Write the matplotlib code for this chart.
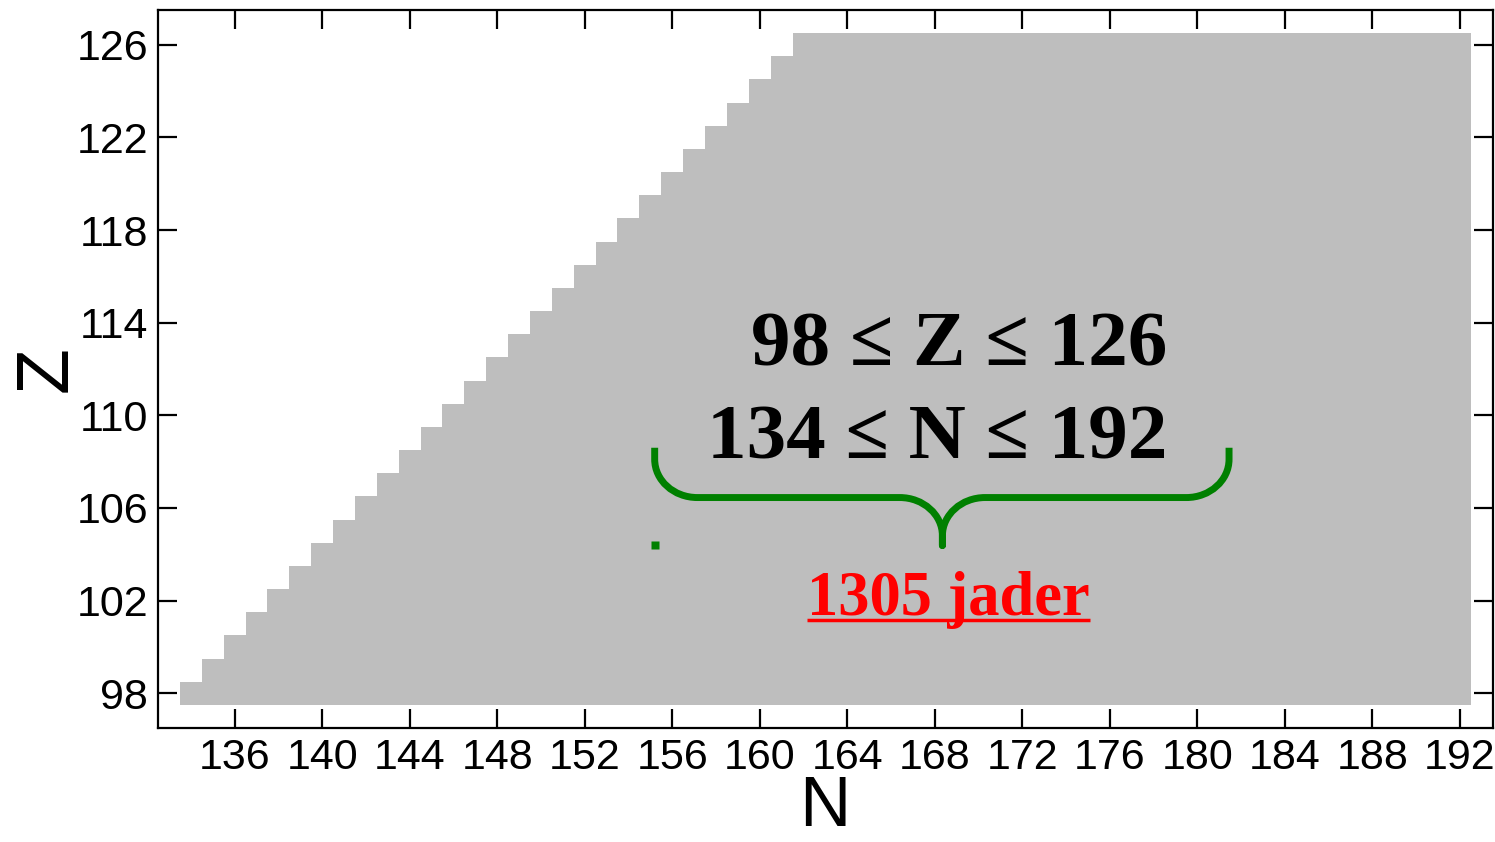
import numpy as np
import matplotlib
matplotlib.use('Agg')
import matplotlib.pyplot as plt
from matplotlib.colors import ListedColormap
from matplotlib.path import Path
from matplotlib.patches import PathPatch

plt.rcParams['font.family'] = ['Liberation Sans Narrow', 'Liberation Sans', 'DejaVu Sans']

# proton numbers and the lightest neutron number computed for each of them
z_values = [98, 99, 100, 101, 102, 103, 104, 105, 106, 107, 108, 109, 110, 111, 112,
            113, 114, 115, 116, 117, 118, 119, 120, 121, 122, 123, 124, 125, 126]
n_first = [134, 135, 136, 137, 138, 139, 140, 141, 142, 143, 144, 145, 146, 147, 148,
           149, 150, 151, 152, 153, 154, 155, 156, 157, 158, 159, 160, 161, 162]
n_last = 192

x_ticks = [136, 140, 144, 148, 152, 156, 160, 164, 168, 172, 176, 180, 184, 188, 192]
y_ticks = [98, 102, 106, 110, 114, 118, 122, 126]

range_lines = ['98 \u2264 Z \u2264 126', '134 \u2264 N \u2264 192']
count_label = '1305 jader'

# grid of computed nuclei
n_all = np.arange(min(n_first), n_last + 1)
z_all = np.array(z_values)
grid = np.ma.masked_all((len(z_all), len(n_all)))
for i, nf in enumerate(n_first):
    grid[i, n_all >= nf] = 1.0

fig = plt.figure(figsize=(14.95, 8.42), dpi=100)
ax = fig.add_axes([158 / 1495, 114 / 842, 1334.7 / 1495, 718 / 842])

n_edges = np.append(n_all, n_all[-1] + 1) - 0.5
z_edges = np.append(z_all, z_all[-1] + 1) - 0.5
ax.pcolormesh(n_edges, z_edges, grid, cmap=ListedColormap(['#bebebe']),
              vmin=0, vmax=1, shading='flat', antialiased=False)

ax.set_xlim(132.5, 193.5)
ax.set_ylim(96.5, 127.5)
ax.set_xticks(x_ticks)
ax.set_yticks(y_ticks)
ax.tick_params(direction='in', top=True, right=True, length=14, width=1.6,
               labelsize=31, pad=7)
for s in ax.spines.values():
    s.set_linewidth(1.6)

ax.set_xlabel('N', fontsize=51, va='baseline')
ax.xaxis.set_label_coords(0.4997, -0.1365)
ax.set_ylabel('Z', fontsize=54, va='center')
ax.yaxis.set_label_coords(-0.083, 0.5)

# curly brace under the ranges
def brace(x0, x1, xm, ytop, ybar, ytip, rx, ry):
    k = 0.552
    verts = [(x0, ytop), (x0, ybar + ry),
             (x0, ybar + ry * (1 - k)), (x0 + rx * (1 - k), ybar), (x0 + rx, ybar),
             (xm - rx, ybar),
             (xm - rx + k * rx, ybar), (xm, ybar - ry + k * ry), (xm, ybar - ry),
             (xm, ytip), (xm, ybar - ry),
             (xm, ybar - ry + k * ry), (xm + rx - k * rx, ybar), (xm + rx, ybar),
             (x1 - rx, ybar),
             (x1 - rx + k * rx, ybar), (x1, ybar + ry * (1 - k)), (x1, ybar + ry),
             (x1, ytop)]
    codes = [Path.MOVETO, Path.LINETO,
             Path.CURVE4, Path.CURVE4, Path.CURVE4,
             Path.LINETO,
             Path.CURVE4, Path.CURVE4, Path.CURVE4,
             Path.LINETO, Path.LINETO,
             Path.CURVE4, Path.CURVE4, Path.CURVE4,
             Path.LINETO,
             Path.CURVE4, Path.CURVE4, Path.CURVE4,
             Path.LINETO]
    return Path(verts, codes)

bx0, bx1, bxm = 155.2, 181.45, 168.35
by_top, by_bar, by_tip = 108.6, 106.45, 104.38
ax.add_patch(PathPatch(brace(bx0, bx1, bxm, by_top, by_bar, by_tip, 1.95, 1.65),
                       fill=False, edgecolor='#008000', lw=5, capstyle='butt',
                       joinstyle='round'))
ax.plot([bx0], [by_tip], 's', color='#008000', ms=5.5, mec='none')

serif = ['Liberation Serif', 'DejaVu Serif']
ax.text(178.63, 112.15, range_lines[0], fontsize=57, fontweight='bold',
        family=serif, ha='right', va='baseline')
ax.text(178.63, 108.15, range_lines[1], fontsize=57, fontweight='bold',
        family=serif, ha='right', va='baseline')
cnt = ax.text(168.62, 101.37, count_label, fontsize=45, fontweight='bold',
              family=serif, color='red', ha='center', va='baseline')

# underline the count
fig.canvas.draw()
bb = cnt.get_window_extent().transformed(ax.transData.inverted())
ax.plot([bb.x0, bb.x1], [101.15, 101.15], color='red', lw=2.5,
        solid_capstyle='butt')

fig.savefig('out.png', dpi=100)
